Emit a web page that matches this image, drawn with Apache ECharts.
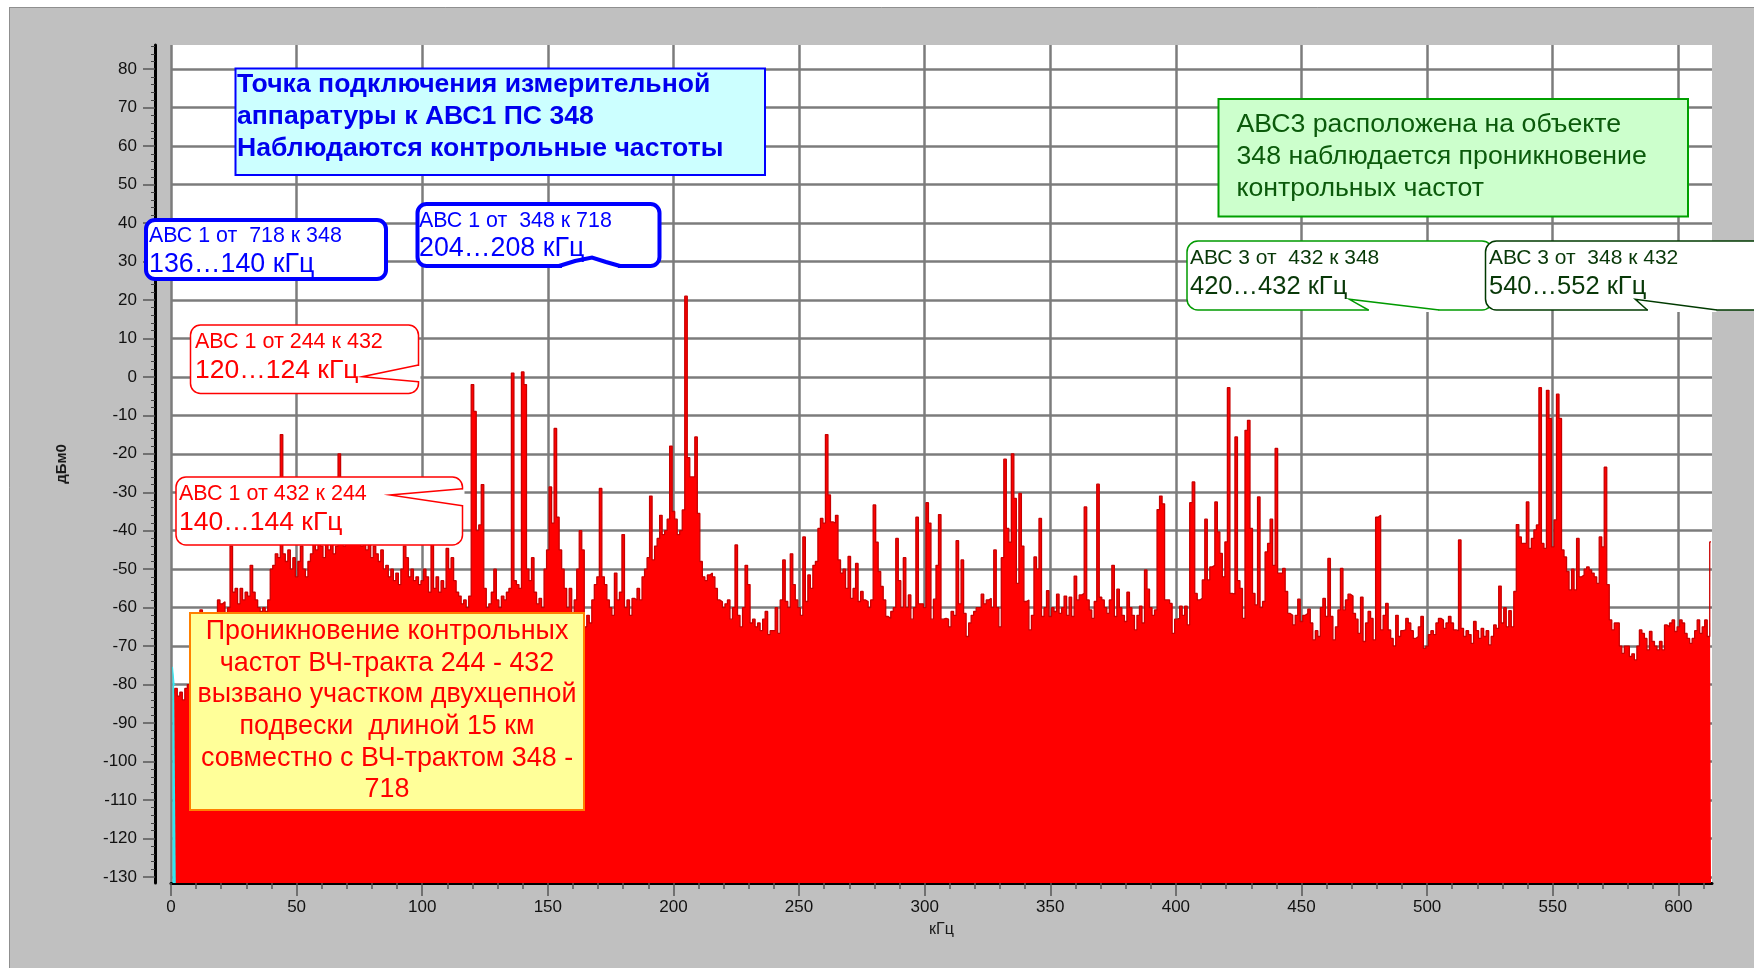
<!DOCTYPE html>
<html>
<head>
<meta charset="utf-8">
<title>Спектр ВЧ-тракта</title>
<script src="https://cdn.jsdelivr.net/npm/echarts@6/dist/echarts.min.js"></script>
<style>
  html, body { margin: 0; padding: 0; background: #ffffff; }
  #chart { width: 1754px; height: 968px; }
</style>
</head>
<body>
<div id="chart"></div>
<script>
// Frequency grid of the spectrum: bins of 1 kHz starting at 1 kHz
const binStartKHz = 1;
const binWidthKHz = 1;

// Measured level per bin, dBm0
const spectrumLevels = [
  -84, -81, -83, -82, -84, -81, -80, -72, -70, -66,          // 1..10
  -64, -60.6, -63, -64, -62, -63, -65, -62, -58, -59,         // 11..20
  -58.5, -62, -60, -44, -56, -55, -59, -55, -58, -56,         // 21..30
  -57, -49, -56, -58, -60, -61, -60, -61, -58, -50,           // 31..40
  -49, -46, -47, -15, -46, -48, -45, -50, -47, -52,           // 41..50
  -48, -44, -50, -52, -48, -46, -43, -45, -42, -44,           // 51..60
  -47, -43, -45, -41, -46, -44, -20, -42, -44, -40,           // 61..70
  -43, -38, -41, -42, -39, -44, -42, -45, -43, -47,           // 71..80
  -44, -46, -48, -45, -50, -49, -52, -50, -53, -51,           // 81..90
  -54, -50, -44, -47, -52, -50, -53, -52, -54, -53,           // 91..100
  -50, -52, -56, -43, -55, -52, -56, -53, -55, -44.6,         // 101..110
  -50, -47, -53, -56, -57, -59, -58, -60, -57, -2,            // 111..120
  -9, -40, -38.5, -28, -55, -60, -59, -56, -50, -58,          // 121..130
  -60, -57, -58, -56, -55, 1, -53, -54, -55, 1.3,             // 131..140
  -2, -50, -53, -47, -56, -59, -57.6, -60, -50, -45,          // 141..150
  -28.6, -38, -13.4, -36.5, -45, -50, -55, -60, -55, -62,     // 151..160
  -58, -50, -40, -45, -65, -62, -64, -58, -54, -52,           // 161..170
  -29, -52, -54, -58, -60, -62, -51, -58, -56, -41,           // 171..180
  -60, -58, -62, -57.6, -58, -55, -58, -52, -50, -47,         // 181..190
  -31, -47.6, -44, -42, -36, -41, -40, -37, -18, -35,         // 191..200
  -37, -41, -40, -34.6, 21, -21, -26, -26, -15.6, -35.5,      // 201..210
  -48, -52, -53, -51.5, -51, -52, -55, -58, -58.5, -60,       // 211..220
  -59, -58, -63, -60, -43.7, -62, -65, -60, -49, -54,         // 221..230
  -64, -63, -65, -64, -66, -63, -61, -67, -66, -66,           // 231..240
  -60, -66.7, -58, -47.6, -58.4, -60, -46, -54, -58, -60,     // 241..250
  -62, -41.6, -58.4, -51.5, -55, -49, -48, -39.4, -36.8, -38, // 251..260
  -15, -30.7, -37.7, -38, -36, -47.6, -51, -50, -55, -46.7,   // 261..270
  -57.6, -55, -48.5, -58.4, -55.8, -58, -58.4, -60, -58, -33.3, // 271..280
  -43, -50.6, -54.5, -58, -62.3, -62.8, -61, -60, -42, -53,   // 281..290
  -60, -47, -60, -56.7, -63, -60, -36.5, -59, -59, -60,       // 291..300
  -32.7, -38, -63, -57.8, -49, -35.8, -63, -62.8, -63, -65,   // 301..310
  -61, -62, -42.6, -59, -47.6, -61.5, -67.5, -64, -62, -61,   // 311..320
  -60, -60, -56.5, -59, -58, -57.6, -60, -45, -60, -65,       // 321..330
  -47, -21.4, -39.4, -43, -20, -31.6, -53.7, -30.3, -44, -58.4, // 331..340
  -58, -65.8, -62, -46.8, -50, -36.8, -62.3, -60, -55.6, -62.3, // 341..350
  -60, -61, -56.5, -61.5, -60, -57, -62, -57.3, -62.3, -51.8, // 351..360
  -58, -56.7, -56.3, -33.8, -58, -60.6, -62.8, -58.4, -27.9, -57.3, // 361..370
  -58, -60, -61.5, -58, -49, -62.3, -55.2, -60, -62, -63.6,   // 371..380
  -56, -60, -62, -65.8, -62, -59.6, -64, -50.2, -55.2, -60,   // 381..390
  -62, -60.6, -34.5, -31, -33, -58, -58, -58.9, -66.7, -63,   // 391..400
  -62.8, -59.6, -62, -59.6, -64.5, -32.7, -27.3, -56.3, -58, -57.6, // 401..410
  -52.8, -37, -52.8, -49.4, -49, -32.5, -40.3, -45.9, -52, -42.9,   // 411..420
  -2.8, -56.3, -56.5, -15.6, -53, -55, -62.8, -13.9, -11.3, -39.4,  // 421..430
  -56.3, -59.3, -31.2, -60, -58.4, -45.5, -43.3, -37, -49, -18.6,   // 431..440
  -51, -51, -49.8, -55.8, -61.5, -62, -64.5, -62, -57.8, -63.6,     // 441..450
  -62, -61.5, -60.4, -64, -68.4, -66, -67.5, -60, -57.6, -62.3,     // 451..460
  -47.2, -62.3, -68.4, -65, -60.6, -49.8, -60.6, -58, -56.5, -57,   // 461..470
  -61.5, -63, -66.7, -57.3, -68.8, -64, -61, -62.8, -68.4, -36.5,   // 471..480
  -36, -65.8, -62, -58.9, -65.8, -68, -70, -62, -67.5, -66,         // 481..490
  -65.8, -62.8, -64, -66, -68, -67.5, -65, -62.3, -70.6, -70,       // 491..500
  -67, -66, -67, -64, -62.8, -63.2, -65.4, -64, -62.3, -64,         // 501..510
  -65.8, -66, -42.4, -65.4, -67.5, -66, -67, -69.3, -63.6, -66,     // 511..520
  -68, -65.4, -67.5, -66, -69.7, -67.5, -64.5, -65.4, -54.4, -64,   // 521..530
  -60, -65, -60.8, -65, -55.8, -38.4, -41.6, -43.3, -43.3, -32.5,   // 531..540
  -44.6, -42, -39.8, -38.5, -2.8, -43.3, -44.6, -3.5, -10.8, -44.2, // 541..550
  -37.2, -4.5, -10.8, -45, -46.8, -50.6, -55.4, -50, -55.4, -42,    // 551..560
  -52, -51.5, -50, -49.4, -50.2, -51, -52, -53.7, -41.6, -44.2,     // 561..570
  -23.5, -54, -63.2, -65.8, -64, -64, -70, -71.9, -70, -70,         // 571..580
  -72.7, -72, -73.6, -70, -65.8, -66.7, -68, -71, -66.2, -68.8,     // 581..590
  -70, -71, -68.8, -71, -64.5, -65, -64, -63.2, -66.2, -65,         // 591..600
  -63.2, -64, -66.7, -68, -69.3, -68, -66, -63.2, -66.7, -65,       // 601..610
  -63.2, -67.5, -42.9                                              // 611..613
];

// Short low-frequency trace near 0 kHz
const cyanFreqKHz = [0.6, 1.0, 1.5, 1.9];
const cyanLevels = [-75.4, -75.4, -80, -80];

// Axis ticks and ranges
const xTickValues = [0, 50, 100, 150, 200, 250, 300, 350, 400, 450, 500, 550, 600];
const yTickValues = [-130, -120, -110, -100, -90, -80, -70, -60, -50, -40, -30, -20, -10,
                     0, 10, 20, 30, 40, 50, 60, 70, 80];
const xRangeKHz = [0, 613.4];
const yRangeDb = [-131.6, 86.3];

const spectrumPoints = spectrumLevels.map((v, i) => [binStartKHz + i * binWidthKHz, v]);
const cyanPoints = cyanFreqKHz.map((f, i) => [f, cyanLevels[i]]);

const FONT = "'Liberation Sans', Arial, sans-serif";

function txt(x, y, text, size, color, opts) {
  opts = opts || {};
  return {
    type: 'text', x: x, y: y, z: 110,
    style: {
      text: text,
      font: (opts.bold ? 'bold ' : '') + size + 'px ' + FONT,
      fill: color,
      align: opts.align || 'left',
      verticalAlign: 'middle'
    }
  };
}
function box(x, y, w, h, r, fill, stroke, lw) {
  return {
    type: 'rect', z: 100,
    shape: { x: x, y: y, width: w, height: h, r: r },
    style: { fill: fill, stroke: stroke, lineWidth: lw }
  };
}
function seg(x1, y1, x2, y2, color, lw) {
  return {
    type: 'line', z: 101,
    shape: { x1: x1, y1: y1, x2: x2, y2: y2 },
    style: { stroke: color, lineWidth: lw }
  };
}
function poly(points, color, lw) {
  return {
    type: 'polyline', z: 102,
    shape: { points: points },
    style: { stroke: color, lineWidth: lw, fill: null }
  };
}

const graphics = [
  // window frame
  { type: 'rect', z: 90, shape: { x: 0, y: 0, width: 1754, height: 7 }, style: { fill: '#ffffff' } },
  { type: 'rect', z: 90, shape: { x: 0, y: 0, width: 9, height: 968 }, style: { fill: '#ffffff' } },
  seg(9, 7.5, 1754, 7.5, '#8f8f8f', 1),
  seg(9.5, 7, 9.5, 968, '#8f8f8f', 1),

  // measurement point note
  box(235.5, 68.5, 529.5, 106.5, 0, '#ccffff', '#0000ff', 2),
  txt(237, 85, 'Точка подключения измерительной', 26.6, '#0000ee', { bold: true }),
  txt(237, 117, 'аппаратуры к АВС1 ПС 348', 26.6, '#0000ee', { bold: true }),
  txt(237, 149, 'Наблюдаются контрольные частоты', 26.6, '#0000ee', { bold: true }),

  // double-circuit section note
  box(190, 613, 394, 197, 0, '#ffff99', '#ff8000', 2),
  txt(387, 632, 'Проникновение контрольных', 26.9, '#ff0000', { align: 'center' }),
  txt(387, 663.5, 'частот ВЧ-тракта 244 - 432', 26.9, '#ff0000', { align: 'center' }),
  txt(387, 695, 'вызвано участком двухцепной', 26.9, '#ff0000', { align: 'center' }),
  txt(387, 726.5, 'подвески  длиной 15 км', 26.9, '#ff0000', { align: 'center' }),
  txt(387, 758.5, 'совместно с ВЧ-трактом 348 -', 26.9, '#ff0000', { align: 'center' }),
  txt(387, 790, '718', 26.9, '#ff0000', { align: 'center' }),

  // АВС3 note
  box(1218.5, 99, 469.5, 117.5, 0, '#ccffcc', '#00a000', 2),
  txt(1236.5, 125, 'АВС3 расположена на объекте', 26.7, '#0b5a0b'),
  txt(1236.5, 157, '348 наблюдается проникновение', 26.7, '#0b5a0b'),
  txt(1236.5, 189, 'контрольных частот', 26.7, '#0b5a0b'),

  // АВС 1 от 718 к 348
  box(146, 220, 240, 59, 9, '#ffffff', '#0000ff', 4),
  txt(149, 236, 'АВС 1 от  718 к 348', 21.4, '#0000ff'),
  txt(149, 265, '136…140 кГц', 26.8, '#0000ff'),

  // АВС 1 от 348 к 718
  box(417.5, 204, 242, 62, 9, '#ffffff', '#0000ff', 4),
  seg(562, 266, 618, 266, '#ffffff', 5),
  poly([[559, 266], [575, 261], [592, 257.5], [606, 262], [620, 266]], '#0000ff', 4),
  txt(419, 221, 'АВС 1 от  348 к 718', 21.4, '#0000ff'),
  txt(419, 249, '204…208 кГц', 26.8, '#0000ff'),

  // АВС 1 от 244 к 432
  box(190.5, 325, 228, 68.5, 10, '#ffffff', '#ff0000', 1.5),
  seg(418.5, 366, 418.5, 381, '#ffffff', 4),
  poly([[418.5, 365], [362, 376.7], [418.5, 381.7]], '#ff0000', 1.5),
  txt(195, 342, 'АВС 1 от 244 к 432', 21.5, '#ff0000'),
  txt(195, 371, '120…124 кГц', 26.5, '#ff0000'),

  // АВС 1 от 432 к 244
  box(176, 477, 286.5, 68, 10, '#ffffff', '#ff0000', 1.5),
  seg(462.5, 489.5, 462.5, 505, '#ffffff', 4),
  poly([[462.5, 488.8], [390, 495], [462.5, 505.8]], '#ff0000', 1.5),
  txt(179, 494, 'АВС 1 от 432 к 244', 21.5, '#ff0000'),
  txt(179, 523, '140…144 кГц', 26.5, '#ff0000'),

  // АВС 3 от 432 к 348
  box(1187, 241, 306, 69, 11, '#ffffff', '#009a00', 1.5),
  seg(1369, 310, 1438.5, 310, '#ffffff', 4),
  poly([[1368.4, 310], [1349.3, 299.3], [1439.2, 310]], '#009a00', 1.5),
  txt(1190, 258, 'АВС 3 от  432 к 348', 21, '#083808'),
  txt(1190, 287, '420…432 кГц', 25.5, '#083808'),

  // АВС 3 от 348 к 432
  box(1485.5, 241, 330, 69, 11, '#ffffff', '#003a00', 1.5),
  seg(1648, 310, 1716.5, 310, '#ffffff', 4),
  poly([[1647.3, 310], [1635.3, 299.3], [1717, 310]], '#003a00', 1.5),
  txt(1489, 258, 'АВС 3 от  348 к 432', 21, '#083808'),
  txt(1489, 287, '540…552 кГц', 25.5, '#083808')
];

const chart = echarts.init(document.getElementById('chart'), null, { renderer: 'canvas' });

chart.setOption({
  backgroundColor: '#c0c0c0',
  animation: false,
  textStyle: { fontFamily: FONT },
  grid: {
    left: 171, right: 42, top: 45, bottom: 85,
    show: true, backgroundColor: '#ffffff', borderWidth: 0
  },
  xAxis: {
    type: 'value',
    min: xRangeKHz[0], max: xRangeKHz[1], interval: 50,
    name: 'кГц', nameLocation: 'middle', nameGap: 39,
    nameTextStyle: { fontSize: 16, color: '#1a1a1a', fontFamily: FONT },
    axisLine: { show: true, onZero: false, lineStyle: { color: '#000000', width: 3 } },
    axisTick: { show: true, length: 13, customValues: xTickValues, lineStyle: { color: '#555555', width: 1.5 } },
    minorTick: { show: true, splitNumber: 5, length: 6, lineStyle: { color: '#555555', width: 1.5 } },
    axisLabel: { customValues: xTickValues, fontSize: 17, color: '#111111', margin: 16, fontFamily: FONT },
    splitLine: { show: true, lineStyle: { color: '#7c7c7c', width: 2.5 } }
  },
  yAxis: {
    type: 'value',
    min: yRangeDb[0], max: yRangeDb[1], splitNumber: 22,
    offset: 16,
    name: 'дБм0', nameLocation: 'middle', nameRotate: 90, nameGap: 86,
    nameTextStyle: { fontSize: 15, fontWeight: 'bold', color: '#1a1a1a', fontFamily: FONT },
    axisLine: { show: true, onZero: false, lineStyle: { color: '#000000', width: 3 } },
    axisTick: { show: true, length: 12, customValues: yTickValues, lineStyle: { color: '#555555', width: 1.5 } },
    minorTick: { show: true, splitNumber: 5, length: 4, lineStyle: { color: '#444444', width: 1 } },
    axisLabel: { customValues: yTickValues, fontSize: 17, color: '#111111', margin: 18, fontFamily: FONT },
    splitLine: { show: true, lineStyle: { color: '#7c7c7c', width: 2.5 } }
  },
  series: [
    {
      name: 'Спектр',
      type: 'line',
      step: 'middle',
      symbol: 'none',
      data: spectrumPoints,
      lineStyle: { color: '#c80000', width: 1.3 },
      areaStyle: { color: '#ff0000', opacity: 1, origin: 'start' },
      z: 3
    },
    {
      name: 'НЧ',
      type: 'line',
      step: 'middle',
      symbol: 'none',
      data: cyanPoints,
      lineStyle: { color: '#33e6f0', width: 1 },
      areaStyle: { color: '#33e6f0', opacity: 1, origin: 'start' },
      z: 4
    }
  ],
  graphic: graphics
});
</script>
</body>
</html>
